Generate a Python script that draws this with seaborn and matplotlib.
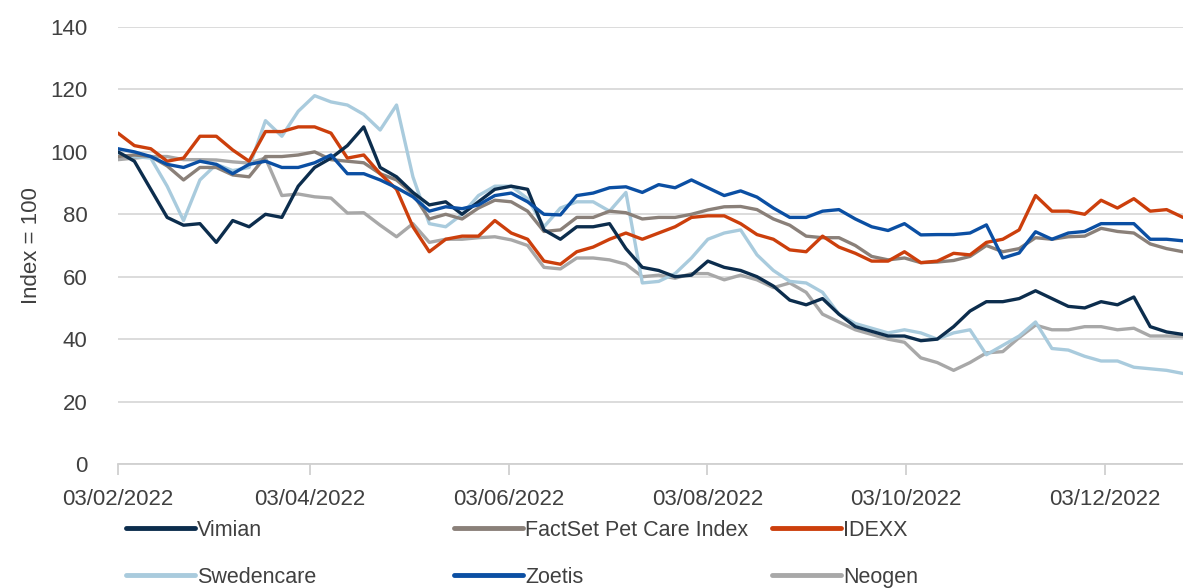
import numpy as np
import pandas as pd
import matplotlib
matplotlib.use("Agg")
import matplotlib.pyplot as plt
import matplotlib.dates as mdates
from matplotlib.lines import Line2D
import seaborn as sns

# roughly every 5 days from 3 Feb to 27 Dec 2022
dates = pd.date_range("2022-02-03", "2022-12-27", periods=66)

vimian = [100, 97, 88, 79, 76.5, 77, 71, 78, 76, 80, 79, 89, 95, 98, 102, 108, 95, 92,
          87, 83, 84, 80, 84, 88, 89, 88, 75, 72, 76, 76, 77, 69, 63, 62, 60, 60.5, 65, 63,
          62, 60, 57, 52.5, 51, 53, 48, 44, 42.5, 41, 41, 39.5, 40, 44, 49, 52, 52, 53,
          55.5, 53, 50.5, 50, 52, 51, 53.5, 44, 42.3, 41.5]
factset = [98.5, 99, 98.5, 95.5, 91, 95, 95, 92.6, 92, 98.5, 98.5, 99, 100, 97.5, 97, 96.5,
           93, 91, 86.5, 78.5, 80, 78.5, 82, 84.5, 84, 81, 74.5, 75, 79, 79, 81, 80.5, 78.5,
           79, 79, 80, 81.4, 82.4, 82.5, 81.5, 78.5, 76.5, 73, 72.5, 72.5, 70, 66.5, 65.4,
           66, 64.5, 64.7, 65.2, 66.5, 70, 68, 69, 72.5, 72, 72.8, 73, 75.5, 74.5, 74, 70.5,
           69, 68]
idexx = [106, 102, 101, 97, 98, 105, 105, 100.6, 97, 106.5, 106.5, 108, 108, 106, 98, 99,
         93, 88, 76, 68, 72, 73, 73, 78, 74, 72, 65, 64, 68, 69.5, 72, 74, 72, 74, 76, 79,
         79.5, 79.5, 77, 73.5, 72, 68.6, 68, 73, 69.5, 67.5, 65, 65, 68, 64.5, 65, 67.5, 67,
         71, 72, 75, 86, 81, 81, 80, 84.5, 82, 85, 81, 81.5, 79]
swedencare = [99, 98.5, 98, 89, 78, 91, 96, 94, 95, 110, 105, 113, 118, 116, 115, 112, 107,
              115, 92, 77, 76, 80, 86, 89, 89, 85, 76, 82, 84, 84, 81, 87, 58, 58.5, 61, 66,
              72, 74, 75, 67, 62, 58.5, 58, 55, 48, 45, 43.5, 42, 43, 42, 40, 42, 43, 35, 38,
              41, 45.5, 37, 36.5, 34.5, 33, 33, 31, 30.5, 30, 29]
zoetis = [101, 100, 98.5, 96, 95, 97, 96, 93, 96, 97, 95, 95, 96.5, 99, 93, 93, 91, 88.5,
          85.6, 81, 82.4, 81.8, 83, 86, 86.8, 84, 80, 79.8, 86, 86.8, 88.5, 88.8, 87, 89.5,
          88.5, 91, 88.5, 86, 87.5, 85.5, 82, 79, 79, 81, 81.5, 78.5, 76, 74.8, 77, 73.4,
          73.5, 73.5, 74, 76.6, 66, 67.6, 74.4, 72, 74, 74.5, 77, 77, 77, 72, 72, 71.5]
neogen = [97.5, 98, 98.5, 98.5, 97.5, 97.5, 97.4, 96.8, 96.4, 98, 86, 86.5, 85.6, 85.2,
          80.4, 80.5, 76.5, 72.8, 77, 71, 72, 72, 72.5, 72.8, 71.8, 70, 63, 62.5, 66, 66,
          65.4, 64, 60, 60.5, 59.5, 61, 61, 59, 60.5, 59, 56.5, 58, 55, 48, 45.5, 43, 41.5,
          40, 39, 34, 32.5, 30, 32.5, 35.6, 36, 40.5, 44.5, 43, 43, 44, 44, 43, 43.5, 41,
          41, 40.8]

names = ["Vimian", "FactSet Pet Care Index", "IDEXX", "Swedencare", "Zoetis", "Neogen"]
values = [vimian, factset, idexx, swedencare, zoetis, neogen]
colors = {"Vimian": "#0c2d4d", "FactSet Pet Care Index": "#8a8079", "IDEXX": "#cc3f0c",
          "Swedencare": "#a9cbdd", "Zoetis": "#0b4fa3", "Neogen": "#a8a8a8"}

df = pd.concat([pd.DataFrame({"date": dates, "value": v, "series": n})
                for n, v in zip(names, values)], ignore_index=True)

sns.set_style("white")
plt.rcParams["font.family"] = ["Liberation Sans", "DejaVu Sans"]

fig = plt.figure(figsize=(11.83, 5.88), dpi=100)
ax = fig.add_axes([118 / 1183, 1 - 464 / 588, 1 - 118 / 1183, (464 - 27) / 588])

# draw order: background lines first
draw_order = ["Neogen", "Swedencare", "FactSet Pet Care Index", "IDEXX", "Vimian", "Zoetis"]
for n in draw_order:
    sns.lineplot(data=df[df["series"] == n], x="date", y="value", color=colors[n],
                 linewidth=2.4, ax=ax, legend=False)

ax.set_ylim(0, 140)
ax.set_yticks(np.arange(0, 141, 20))
ax.set_xlim(dates[0], dates[-1])
ticks = pd.to_datetime(["2022-02-03", "2022-04-03", "2022-06-03", "2022-08-03",
                        "2022-10-03", "2022-12-03"])
ax.set_xticks(ticks)
ax.xaxis.set_major_formatter(mdates.DateFormatter("%d/%m/%Y"))
ax.yaxis.grid(True, color="#d9d9d9", linewidth=1.3)
ax.xaxis.grid(False)
for s in ["top", "right", "left"]:
    ax.spines[s].set_visible(False)
ax.spines["bottom"].set_color("#d0d0d0")
ax.spines["bottom"].set_linewidth(1.3)
ax.tick_params(axis="x", length=8, width=1.3, color="#d0d0d0", pad=10,
               labelsize=16, labelcolor="#404040", direction="out", bottom=True)
ax.tick_params(axis="y", length=0, pad=22, labelsize=16, labelcolor="#404040")
ax.set_xlabel("")
ax.set_ylabel("Index = 100", fontsize=16, color="#404040", labelpad=6)

def handle(n):
    return Line2D([], [], color=colors[n], linewidth=3.5)

legend_cols = [(["Vimian", "Swedencare"], 126), (["FactSet Pet Care Index", "Zoetis"], 454),
               (["IDEXX", "Neogen"], 772)]
for items, xpos in legend_cols:
    fig.legend(handles=[handle(n) for n in items], labels=items, loc="upper left",
               bbox_to_anchor=(xpos / 1183, 1 - 520 / 588), frameon=False, fontsize=15.5,
               handlelength=3.2, handletextpad=0.1, borderpad=0, borderaxespad=0,
               labelspacing=1.2, labelcolor="#404040")

fig.savefig("out.png", dpi=100)
plt.close(fig)
